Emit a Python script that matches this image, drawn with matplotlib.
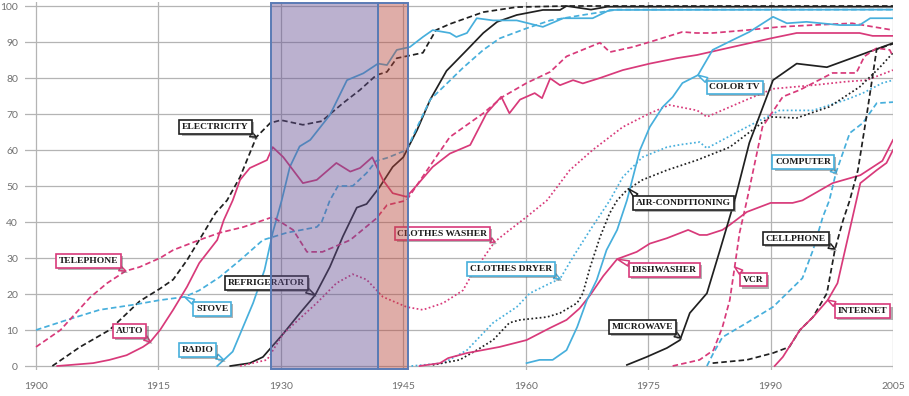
import numpy as np
import matplotlib.pyplot as plt
from matplotlib.patches import Rectangle
import matplotlib.patheffects as pe

# share of US households owning each technology (%)
electricity_years = [1902, 1905.4, 1909, 1912.7, 1915.2, 1916.8, 1918.5, 1920, 1922, 1923.4, 1925, 1927, 1928.7,
                     1930, 1932.7, 1935, 1937.6, 1939.7, 1941.7, 1943, 1944.2, 1947.4, 1949, 1950.7, 1954.8,
                     1958.9, 1965, 2005]
electricity_pct = [0, 5.3, 10, 18, 21.5, 24, 29.4, 35, 42.5, 46, 52.5, 63.6, 67.5,
                   68.3, 67, 68, 73, 76.7, 80.8, 81.7, 85.5, 87, 93.3, 95, 98.3,
                   99.7, 100, 100]

refrigerator_years = [1923.8, 1926.2, 1927.8, 1930.3, 1932.3, 1934.2, 1936, 1937.6, 1939.3, 1940.5, 1942.1, 1943.7,
                      1945, 1946.7, 1948.3, 1950.3, 1952.8, 1954.8, 1956.5, 1958.9, 1962.1, 1964.2, 1965, 1968,
                      1970, 2005]
refrigerator_pct = [0, 0.8, 2.5, 9, 14.6, 19.7, 27.5, 36, 44, 45, 49.7, 55.3,
                    58, 65.6, 74, 82, 87.8, 92.5, 95.6, 97.5, 98.9, 98.9, 100, 99,
                    99.8, 99.8]

radio_years = [1922.2, 1924.1, 1926.6, 1928, 1929, 1930.1, 1931.1, 1932.3, 1933.6, 1936, 1938.1, 1940.1, 1941.9,
               1943, 1944.2, 1945.8, 1947.4, 1948.6, 1950.7, 1951.5, 1952.8, 1954, 1956, 1958.9, 1962.1, 1964.6,
               1968.2, 1970.3, 2005]
radio_pct = [0, 4, 17.5, 26.7, 37, 46, 55.3, 61, 62.8, 69.7, 79.4, 81.3, 84,
             83.6, 87.8, 88.6, 91.4, 93.3, 92.5, 91.4, 92.5, 96.6, 96, 96, 94.2, 96.6,
             96.6, 98.9, 99]

stove_years = [1900, 1903.8, 1907.8, 1911.9, 1915.2, 1918.2, 1920, 1922.5, 1925, 1927.8, 1930.7, 1934.4, 1935,
               1936, 1937, 1938.8, 1940.5, 1941.7, 1943, 1945.4, 1946.7, 1948.3, 1949.9, 1952.3, 1954.8, 1956.8,
               1960.1, 1963, 1967, 1971.2, 2005]
stove_pct = [10, 12.8, 15.6, 17, 18.3, 19.2, 21, 24.7, 29.4, 35, 37, 38.6, 40,
             46, 50, 50, 53.6, 57, 57.8, 60, 66.4, 74, 77.5, 82.8, 87.8, 91,
             93.8, 96, 97.5, 99, 99]

auto_years = [1902.6, 1907, 1909, 1911.1, 1913.1, 1914, 1915.2, 1916.8, 1918.5, 1920, 1922.2, 1923, 1924.1, 1925,
              1926.2, 1928.3, 1929, 1930.3, 1932.7, 1934.4, 1936.8, 1938.5, 1939.7, 1941.2, 1942.5, 1943.7, 1945.4,
              1946.7, 1948.6, 1950.7, 1953.2, 1955.2, 1957, 1958, 1959.3, 1961.1, 1962, 1963, 1964.2, 1965.8,
              1967, 1969.1, 1971.9, 1975.2, 1978.5, 1981, 1990, 1993.2, 2000.9, 2002.5, 2005]
auto_pct = [0, 0.8, 1.7, 3, 5.3, 6.7, 10, 15.6, 22, 28.6, 35, 40.5, 46, 51.7,
            55, 57.2, 60.8, 58, 50.8, 51.7, 56.4, 54, 55, 58, 51.7, 48, 47,
            50.3, 55.3, 59, 61.4, 70.2, 74.8, 70.2, 74, 75.8, 74.4, 79.9, 78, 79.4,
            78.5, 80, 82.2, 84, 85.5, 86.4, 91, 92.5, 92.5, 91.7, 91.7]

telephone_years = [1900, 1903, 1906.6, 1908.7, 1911, 1912.7, 1915.2, 1916.8, 1920, 1922.5, 1925.4, 1929, 1931.5,
                   1933.2, 1935.1, 1938.5, 1941.7, 1943, 1945.4, 1949, 1950.7, 1954.8, 1957.2, 1960.1, 1963, 1965,
                   1969.1, 1970.3, 1973.1, 1975.2, 1979.2, 1980.9, 1982.9, 1987.1, 1991.1, 1995.2, 2000, 2005]
telephone_pct = [5.3, 10, 19, 23, 26.4, 27.5, 30, 32.2, 35, 37, 38.6, 41.4, 37.8,
                 31.7, 31.7, 35, 41, 44.7, 46, 58, 63.6, 70.2, 74.8, 78.6, 81.7, 86,
                 89.8, 87.2, 88.6, 90, 92.8, 92.5, 92.5, 93.3, 94.2, 94.7, 95.2, 93.3]

washer_years = [1925, 1928.3, 1930.3, 1934.4, 1936.8, 1938.8, 1940.5, 1942.5, 1945.4, 1947.4, 1949.9, 1952.3, 1953.5,
                1956.2, 1957.7, 1960.1, 1962.6, 1965.4, 1968.2, 1971.9, 1975.2, 1977.6, 1981, 1982.2, 1987.1,
                1990.3, 1995.2, 1999.3, 2001.8, 2005]
washer_pct = [0, 1.7, 9, 17.5, 23, 25.5, 24, 19.2, 16.4, 15.6, 17.5, 21, 25.8,
              34.5, 37.2, 41.4, 46, 54.4, 60, 66.4, 70.2, 72.5, 71, 69.2, 74,
              77, 78, 79, 79.4, 82.2]

dryer_years = [1946, 1949.9, 1952.8, 1956, 1958.9, 1960.5, 1963, 1964.2, 1965.8, 1967.9, 1970.3, 1971.9, 1974.3,
               1977.3, 1979, 1981.3, 1982.2, 1987.1, 1991.1, 1995.2, 1999.3, 2001.3, 2003.7, 2005]
dryer_pct = [0, 0.8, 4.4, 12, 16.4, 20.2, 23, 24.2, 30.3, 37.8, 46, 52.5, 58,
             60.8, 61.5, 62.2, 60.5, 66.4, 71, 71, 74, 75.8, 78.6, 79.4]

aircon_years = [1948.6, 1951.9, 1954, 1956, 1958, 1959.3, 1962.6, 1964.2, 1966.3, 1967, 1967.9, 1969.1, 1970.3,
                1971.2, 1972.4, 1974.3, 1977.3, 1981, 1985, 1989.9, 1993.2, 1997.2, 2000.9, 2003.4, 2005]
aircon_pct = [0.3, 1.7, 4.4, 7.2, 12, 12.8, 13.6, 14.7, 17.5, 20.2, 27.5, 35.8, 42.5,
              46, 48.9, 51.7, 54.4, 57.2, 60.8, 69.2, 68.9, 72, 77.5, 83, 87]

dishwasher_years = [1947, 1949.5, 1950.5, 1952.8, 1956.8, 1960.1, 1963, 1965, 1966.6, 1967.9, 1969.5, 1971.2,
                    1973.6, 1975.2, 1977.3, 1979.9, 1981.3, 1982.2, 1984.1, 1985, 1987.1, 1990, 1992.7, 1993.9,
                    1997.6, 2001, 2003.7, 2005]
dishwasher_pct = [0, 0.8, 2.2, 3.6, 5.3, 7.2, 10.6, 12.8, 16, 19.7, 25, 29.7,
                  31.7, 34, 35.5, 37.8, 36.4, 36.4, 37.8, 39.2, 42.8, 45.3, 45.3, 46,
                  50.8, 53, 57, 62.8]

colortv_years = [1960.1, 1961.7, 1963.3, 1965, 1966.3, 1967.5, 1968.7, 1969.9, 1971.2, 1972.4, 1974, 1975.2, 1976.8,
                 1978, 1979.2, 1981.1, 1982.9, 1985.4, 1987.4, 1990.3, 1992, 1994.4, 1998.5, 2000.9, 2002.2, 2005]
colortv_pct = [0.8, 1.7, 1.7, 4.4, 10.8, 18.3, 23.9, 32.2, 37.8, 46, 60, 66.4, 72,
               74.7, 78.6, 80.8, 87.8, 90.6, 92.8, 97, 95.2, 95.6, 94.7, 94.7, 96.6, 96.6]

microwave_years = [1972.4, 1974.8, 1977.3, 1978.9, 1980.1, 1982.2, 1983.8, 1985, 1985.6, 1987.4, 1990.3, 1993.2,
                   1996.9, 2005]
microwave_pct = [0.3, 2.5, 5, 7.2, 14.7, 20.2, 32.2, 41.4, 46, 62, 79.4, 84, 83, 89.7]

vcr_years = [1978, 1981.3, 1983, 1984.1, 1985, 1985.6, 1986.2, 1987.1, 1989, 1991.5, 1993.6, 1997.6, 2000.5, 2001.5,
             2003, 2004.6, 2005]
vcr_pct = [0, 1.7, 4.4, 10.8, 18.3, 27.5, 37, 46, 66.4, 74.8, 76.7, 81.4, 81.4, 86, 88.3, 87.8, 86]

computer_years = [1982.2, 1983, 1984.1, 1987.1, 1990.3, 1993.9, 1995.2, 1996.4, 1997.2, 1998, 1999.7, 2001.3, 2003,
                  2005]
computer_pct = [0, 3.6, 8, 12, 16.4, 24.4, 32.2, 41.4, 46, 53.6, 64.7, 67.5, 73, 73.3]

cellphone_years = [1982.9, 1987.1, 1990.3, 1992.3, 1993.6, 1995.2, 1996.9, 1997.9, 1998.9, 1999.7, 2000.7, 2001.8,
                   2003, 2005]
cellphone_pct = [0.8, 1.7, 3.6, 5.3, 10, 13.6, 20.2, 32.5, 40.6, 46, 54.4, 70, 88, 89.5]

internet_years = [1990.5, 1991.5, 1993.6, 1995.2, 1997, 1998.2, 2001, 2003, 2004.2, 2005]
internet_pct = [0, 2.5, 10, 13.6, 18.3, 23, 50.8, 54.4, 56.4, 60]

# Great Depression and World War II periods
depression = (1928.8, 1941.9)
war = (1941.9, 1945.6)

x_ticks = [1900, 1915, 1930, 1945, 1960, 1975, 1990, 2005]
y_ticks = list(range(0, 101, 10))

PINK = '#d83a7a'
BLUE = '#47afdc'
BLACK = '#202020'
SOLID = '-'
DASHED = (0, (3.2, 1.8))
DOTTED = (0, (1, 1.4))

series = [
    (electricity_years, electricity_pct, BLACK, DASHED),
    (refrigerator_years, refrigerator_pct, BLACK, SOLID),
    (radio_years, radio_pct, BLUE, SOLID),
    (stove_years, stove_pct, BLUE, DASHED),
    (auto_years, auto_pct, PINK, SOLID),
    (telephone_years, telephone_pct, PINK, DASHED),
    (washer_years, washer_pct, PINK, DOTTED),
    (dryer_years, dryer_pct, BLUE, DOTTED),
    (aircon_years, aircon_pct, BLACK, DOTTED),
    (dishwasher_years, dishwasher_pct, PINK, SOLID),
    (colortv_years, colortv_pct, BLUE, SOLID),
    (microwave_years, microwave_pct, BLACK, SOLID),
    (vcr_years, vcr_pct, PINK, DASHED),
    (computer_years, computer_pct, BLUE, DASHED),
    (cellphone_years, cellphone_pct, BLACK, DASHED),
    (internet_years, internet_pct, PINK, SOLID),
]

# label, box centre (year, %), series, year the tail points at, colour, tail anchor on box
labels = [
    ('ELECTRICITY', (1922.0, 66.4), electricity_years, electricity_pct, 1927.0, BLACK, (0.92, 0)),
    ('TELEPHONE', (1906.4, 29.2), telephone_years, telephone_pct, 1911.0, PINK, (0.9, 0)),
    ('AUTO', (1911.5, 9.8), auto_years, auto_pct, 1914.0, PINK, (0.9, 0)),
    ('STOVE', (1921.6, 15.8), stove_years, stove_pct, 1918.2, BLUE, (0.1, 1)),
    ('RADIO', (1919.8, 4.5), radio_years, radio_pct, 1923.0, BLUE, (0.92, 0)),
    ('REFRIGERATOR', (1928.2, 23.0), refrigerator_years, refrigerator_pct, 1934.2, BLACK, (0.95, 0)),
    ('CLOTHES WASHER', (1949.8, 36.8), washer_years, washer_pct, 1956.2, PINK, (0.95, 0)),
    ('CLOTHES DRYER', (1958.2, 27.0), dryer_years, dryer_pct, 1964.2, BLUE, (0.95, 0)),
    ('AIR-CONDITIONING', (1979.3, 45.2), aircon_years, aircon_pct, 1972.6, BLACK, (0.04, 1)),
    ('DISHWASHER', (1977.0, 26.7), dishwasher_years, dishwasher_pct, 1971.2, PINK, (0.05, 1)),
    ('MICROWAVE', (1974.3, 10.8), microwave_years, microwave_pct, 1979.0, BLACK, (0.95, 0)),
    ('COLOR TV', (1985.6, 77.4), colortv_years, colortv_pct, 1981.1, BLUE, (0.06, 1)),
    ('COMPUTER', (1994.0, 56.6), computer_years, computer_pct, 1998.0, BLUE, (0.95, 0)),
    ('VCR', (1987.9, 24.0), vcr_years, vcr_pct, 1985.6, PINK, (0.1, 1)),
    ('CELLPHONE', (1993.1, 35.4), cellphone_years, cellphone_pct, 1997.9, BLACK, (0.95, 0)),
    ('INTERNET', (2001.3, 15.2), internet_years, internet_pct, 1997.0, PINK, (0.05, 1)),
]

fig = plt.figure(figsize=(9.09, 3.96), dpi=100)
ax = fig.add_axes([25 / 909, (396 - 369.6) / 396, 868 / 909, 367.2 / 396])
ax.set_xlim(1898.65, 2005)
ax.set_ylim(-1, 101)

for s in ax.spines.values():
    s.set_visible(False)

for y in y_ticks:
    ax.axhline(y, color='#b4b4b4', lw=0.9, zorder=0)
for x in x_ticks:
    ax.axvline(x, color='#b4b4b4', lw=0.9, zorder=0)

ax.set_xticks(x_ticks)
ax.set_yticks(y_ticks)
ax.tick_params(length=0, colors='#707070', labelsize=7.5)
ax.tick_params(axis='x', pad=9)
ax.tick_params(axis='y', pad=5)
for t in ax.get_xticklabels() + ax.get_yticklabels():
    t.set_fontfamily('Lato')

for xs, ys, color, ls in series:
    ax.plot(xs, ys, color=color, linestyle=ls, lw=1.25, zorder=2)

for text, box, xs, ys, px, color, rel in labels:
    py = np.interp(px, xs, ys)
    ann = ax.annotate(text, xy=(px, py), xytext=box, ha='center', va='center',
                      fontsize=6.8, fontweight='bold', family='Liberation Serif', color='#1a1a1a',
                      bbox=dict(boxstyle='square,pad=0.3', fc='white', ec=color, lw=1.2),
                      arrowprops=dict(arrowstyle='wedge,tail_width=0.55,shrink_factor=0.5',
                                      fc='white', ec=color, lw=1.1, relpos=rel,
                                      shrinkA=0, shrinkB=0),
                      zorder=5)
    shadow = [pe.SimplePatchShadow(offset=(1.5, -1.5), shadow_rgbFace='#666666', alpha=0.5), pe.Normal()]
    ann.get_bbox_patch().set_path_effects(shadow)
    ann.arrow_patch.set_path_effects(shadow)

# shaded periods, laid translucently over everything
ax.add_patch(Rectangle((depression[0], -0.8), depression[1] - depression[0], 101.6,
                       facecolor='#644f92', alpha=0.44, edgecolor='none', zorder=6))
ax.add_patch(Rectangle((war[0], -0.8), war[1] - war[0], 101.6,
                       facecolor='#b8463a', alpha=0.44, edgecolor='none', zorder=6))
for a, b in (depression, war):
    ax.add_patch(Rectangle((a, -0.8), b - a, 101.6, facecolor='none',
                           edgecolor='#5a7bb5', lw=1.4, zorder=6.5))

fig.savefig('out.png', dpi=100)
